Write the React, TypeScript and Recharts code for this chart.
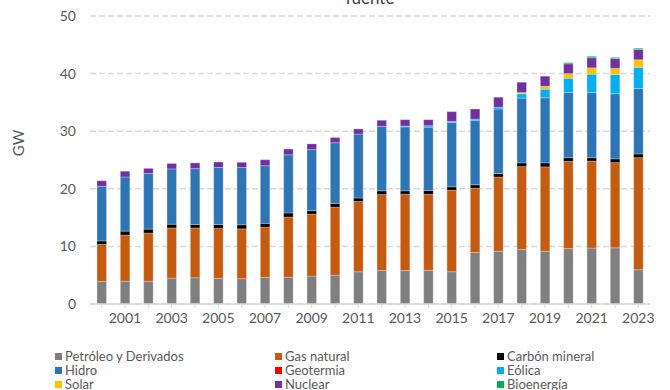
import { BarChart, Bar, XAxis, YAxis, CartesianGrid } from "recharts";

// capacidad instalada por fuente, GW
const years = [
  "2000", "2001", "2002", "2003", "2004", "2005", "2006", "2007", "2008", "2009", "2010", "2011",
  "2012", "2013", "2014", "2015", "2016", "2017", "2018", "2019", "2020", "2021", "2022", "2023",
];

const petroleo = [3.9, 3.95, 3.95, 4.5, 4.55, 4.45, 4.4, 4.6, 4.65, 4.85, 5.0, 5.6, 5.8, 5.8, 5.85, 5.6, 8.95, 9.15, 9.45, 9.15, 9.65, 9.7, 9.75, 5.95];
const gasNatural = [6.45, 8.0, 8.35, 8.7, 8.65, 8.65, 8.65, 8.75, 10.45, 10.75, 11.8, 12.2, 13.2, 13.25, 13.2, 14.15, 11.15, 12.9, 14.4, 14.65, 15.1, 15.1, 14.8, 19.45];
const carbon = [0.6, 0.7, 0.7, 0.65, 0.6, 0.7, 0.7, 0.65, 0.7, 0.6, 0.65, 0.6, 0.65, 0.6, 0.65, 0.6, 0.6, 0.6, 0.65, 0.7, 0.65, 0.6, 0.65, 0.65];
const hidro = [9.45, 9.4, 9.65, 9.6, 9.7, 9.9, 9.95, 10.0, 10.1, 10.6, 10.55, 11.1, 11.2, 11.1, 11.0, 11.15, 11.2, 11.2, 11.25, 11.3, 11.3, 11.3, 11.3, 11.35];
const geotermia = [0, 0, 0, 0, 0, 0, 0, 0, 0, 0, 0, 0, 0, 0, 0, 0, 0, 0, 0, 0, 0, 0, 0, 0];
const eolica = [0, 0, 0, 0, 0, 0, 0, 0, 0, 0, 0, 0, 0, 0.15, 0.25, 0.2, 0.2, 0.3, 0.75, 1.5, 2.5, 3.2, 3.35, 3.7];
const solar = [0, 0, 0, 0, 0, 0, 0, 0, 0, 0, 0, 0, 0, 0, 0, 0, 0, 0, 0.2, 0.5, 0.8, 1.1, 1.05, 1.3];
const nuclear = [1.0, 1.0, 0.9, 0.95, 1.0, 0.95, 0.9, 1.05, 1.0, 1.0, 0.9, 0.9, 1.05, 1.1, 1.05, 1.7, 1.75, 1.75, 1.8, 1.75, 1.7, 1.75, 1.7, 1.8];
const bioenergia = [0, 0, 0, 0, 0, 0, 0, 0, 0, 0, 0, 0, 0, 0, 0, 0, 0, 0, 0, 0, 0.2, 0.25, 0.2, 0.2];

const yTicks = [0, 10, 20, 30, 40, 50];

const series = [
  { key: "petroleo", name: "Petróleo y Derivados", color: "#7f7f7f", values: petroleo },
  { key: "gas", name: "Gas natural", color: "#c55a11", values: gasNatural },
  { key: "carbon", name: "Carbón mineral", color: "#000000", values: carbon },
  { key: "hidro", name: "Hidro", color: "#2e75b6", values: hidro },
  { key: "geo", name: "Geotermia", color: "#ff0000", values: geotermia },
  { key: "eolica", name: "Eólica", color: "#00b0f0", values: eolica },
  { key: "solar", name: "Solar", color: "#ffc000", values: solar },
  { key: "nuclear", name: "Nuclear", color: "#7030a0", values: nuclear },
  { key: "bio", name: "Bioenergía", color: "#00b050", values: bioenergia },
];

const data = years.map((year, i) => {
  const row: Record<string, string | number> = { year };
  series.forEach((s) => {
    row[s.key] = s.values[i];
  });
  return row;
});

const font = "Lato, 'Open Sans', sans-serif";
const textColor = "#595959";

export default function App() {
  return (
    <div style={{ position: "absolute", left: 0, top: 0, width: 670, height: 390, overflow: "hidden", fontFamily: font, background: "#fff" }}>
      <div style={{ position: "absolute", top: -13, left: 0, width: 740, textAlign: "center", fontSize: 17, color: "#404040" }}>
        fuente
      </div>
      <div
        style={{
          position: "absolute",
          left: 18,
          top: 143,
          transform: "translate(-50%, -50%) rotate(-90deg)",
          fontSize: 15,
          color: textColor,
        }}
      >
        GW
      </div>
      <BarChart
        width={670}
        height={390}
        data={data}
        margin={{ top: 16, right: 20, bottom: 56, left: 0 }}
        barSize={9.5}
        style={{ fontFamily: font }}
      >
        <CartesianGrid vertical={false} stroke="#d9d9d9" strokeWidth={1.5} strokeDasharray="6 3" />
        <XAxis
          dataKey="year"
          interval={0}
          tickFormatter={(v: string) => (Number(v) % 2 === 1 ? v : "")}
          tick={{ fill: textColor, fontSize: 14 }}
          tickSize={4}
          tickMargin={5}
          stroke="#d9d9d9"
          axisLine={{ stroke: "#d9d9d9", strokeWidth: 1.5 }}
          tickLine={{ stroke: "#d9d9d9" }}
          height={30}
        />
        <YAxis
          domain={[0, 50]}
          ticks={yTicks}
          width={90}
          axisLine={false}
          tickLine={false}
          tickSize={0}
          tickMargin={14}
          tick={{ fill: textColor, fontSize: 14 }}
        />
        {series.map((s) => (
          <Bar
            key={s.key}
            dataKey={s.key}
            name={s.name}
            stackId="a"
            fill={s.color}
            stroke="rgba(255,255,255,0.45)"
            strokeWidth={0.6}
            isAnimationActive={false}
          />
        ))}
      </BarChart>
      <div style={{ position: "absolute", left: 0, top: 349, width: 670, fontSize: 13, color: textColor, lineHeight: "14px" }}>
        {series.map((s, i) => (
          <div
            key={s.key}
            style={{
              position: "absolute",
              left: [55, 275, 497][i % 3],
              top: Math.floor(i / 3) * 14,
              whiteSpace: "nowrap",
              display: "flex",
              alignItems: "center",
            }}
          >
            <span style={{ display: "inline-block", width: 7, height: 7, background: s.color, marginRight: 3 }} />
            {s.name}
          </div>
        ))}
      </div>
    </div>
  );
}
